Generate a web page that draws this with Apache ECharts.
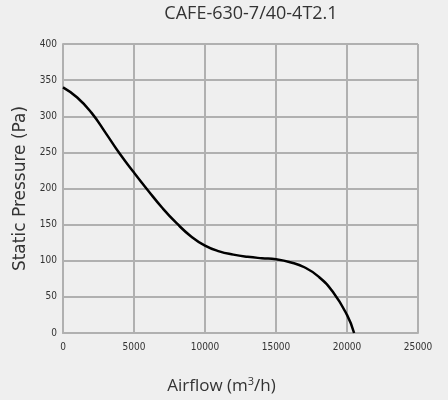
<!DOCTYPE html>
<html>
<head>
<meta charset="utf-8">
<script src="https://cdn.jsdelivr.net/npm/echarts@6/dist/echarts.min.js"></script>
<style>
  html, body { margin: 0; padding: 0; background: #efefef; }
  #chart { width: 448px; height: 400px; }
</style>
</head>
<body>
<div id="chart"></div>
<script>
// 风机性能曲线
const chartTitle = 'CAFE-630-7/40-4T2.1';
const airflow = [0, 1000, 2000, 3000, 4000, 5000, 6000, 7000, 8000, 9000, 10000,
    11000, 12000, 13000, 14000, 15000, 16000, 17000, 18000, 19000, 20000, 20500];
const pressure = [340, 326, 305, 277, 248, 222, 197, 173, 152, 134, 121,
    113, 108.5, 105.5, 103.5, 102, 98, 91, 78, 57, 25, 0];

const gridColor = '#b0b0b0';
const labelFont = 'DejaVu Sans Condensed, Liberation Sans Narrow, sans-serif';

const chart = echarts.init(document.getElementById('chart'));

const option = {
    backgroundColor: '#efefef',
    animation: false,
    title: {
        text: chartTitle,
        left: 246,
        top: 0,
        textAlign: 'center',
        textStyle: {
            color: '#333',
            fontFamily: 'Open Sans, sans-serif',
            fontSize: 18,
            fontWeight: 'normal'
        }
    },
    grid: {
        left: 63,
        right: 30,
        top: 44,
        bottom: 67
    },
    xAxis: {
        type: 'value',
        min: 0,
        max: 25000,
        interval: 5000,
        name: '{n|Airflow (m}{s|3}{n|/h)}',
        nameLocation: 'middle',
        nameGap: 43,
        nameTextStyle: {
            padding: [0, 38, 0, 0],
            rich: {
                n: { fontFamily: 'Open Sans, sans-serif', fontSize: 17, color: '#333' },
                s: { fontFamily: 'Open Sans, sans-serif', fontSize: 11, color: '#333', verticalAlign: 'top', padding: [0, 0, 9, 0] }
            }
        },
        axisLine: { lineStyle: { color: gridColor, width: 2 } },
        axisTick: { show: false },
        axisLabel: {
            color: '#333',
            fontFamily: labelFont,
            fontSize: 10,
            margin: 9,
            formatter: v => String(v)
        },
        splitLine: { show: true, lineStyle: { color: gridColor, width: 2 } }
    },
    yAxis: {
        type: 'value',
        min: 0,
        max: 400,
        interval: 50,
        name: 'Static Pressure (Pa)',
        nameLocation: 'middle',
        nameGap: 30,
        nameTextStyle: {
            color: '#333',
            fontFamily: 'DejaVu Sans, sans-serif',
            fontSize: 17
        },
        axisLine: { show: true, lineStyle: { color: gridColor, width: 2 } },
        axisTick: { show: false },
        axisLabel: { color: '#333', fontFamily: labelFont, fontSize: 10, margin: 6 },
        splitLine: { show: true, lineStyle: { color: gridColor, width: 2 } }
    },
    series: [{
        type: 'line',
        data: airflow.map((v, i) => [v, pressure[i]]),
        smooth: 0.5,
        showSymbol: false,
        lineStyle: { color: '#000', width: 2.5 }
    }]
};

chart.setOption(option);
</script>
</body>
</html>
